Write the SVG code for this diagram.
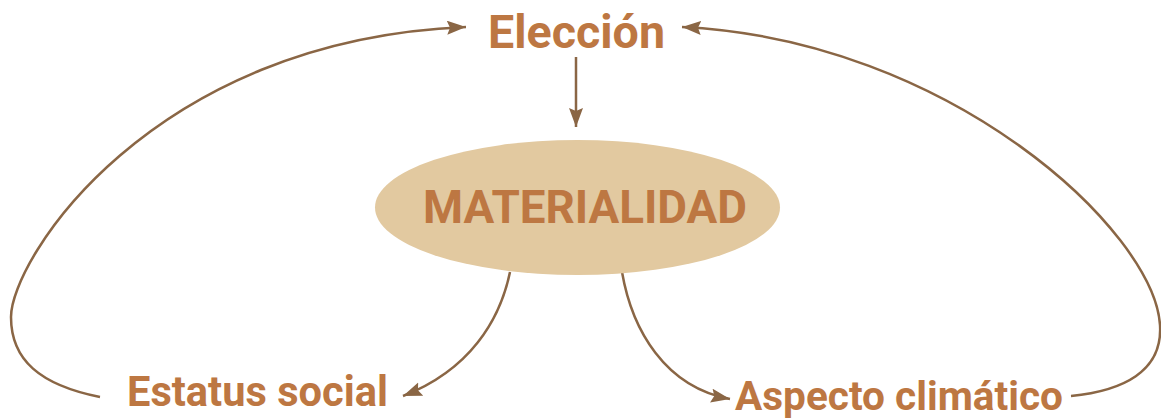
<svg xmlns="http://www.w3.org/2000/svg" width="1161" height="418" viewBox="0 0 1161 418">
<defs>
<style>
.lbl{font-family:Roboto,"Liberation Sans",sans-serif;font-weight:700;fill:#bd7742}
.con{fill:none;stroke:#8a6645;stroke-width:2.5;marker-end:url(#ah)}
</style>
<marker id="ah" markerUnits="userSpaceOnUse" markerWidth="20" markerHeight="15" refX="19" refY="7" orient="auto">
<path d="M0,0 L19,7 L0,14 L3,7 Z" fill="#8a6645"/>
</marker>
</defs>
<rect width="1161" height="418" fill="#ffffff"/>
<g id="connectors">
<path class="con" d="M576,57 L576,127"/>
<path class="con" d="M100,397 C40,385 11,360 11,317 C11,260 150,40 466,27"/>
<path class="con" d="M1071,396 C1122,391 1163,372 1160,325 C1154,231 950,40 682,27"/>
<path class="con" d="M510,272 C500,320 470,370 403,396"/>
<path class="con" d="M622,272 C632,330 665,387 730,399"/>
</g>
<g id="materialidad">
<ellipse cx="577.5" cy="207.5" rx="202.5" ry="67.5" fill="#e2c9a0"/>
<text class="lbl" x="423" y="223" font-size="46" textLength="324" lengthAdjust="spacingAndGlyphs">MATERIALIDAD</text>
</g>
<g id="eleccion">
<text class="lbl" x="488" y="48" font-size="46" textLength="177" lengthAdjust="spacingAndGlyphs">Elección</text>
</g>
<g id="estatus">
<text class="lbl" x="127" y="406" font-size="42" textLength="261" lengthAdjust="spacingAndGlyphs">Estatus social</text>
</g>
<g id="aspecto">
<text class="lbl" x="735" y="410" font-size="41" textLength="328" lengthAdjust="spacingAndGlyphs">Aspecto climático</text>
</g>
</svg>
